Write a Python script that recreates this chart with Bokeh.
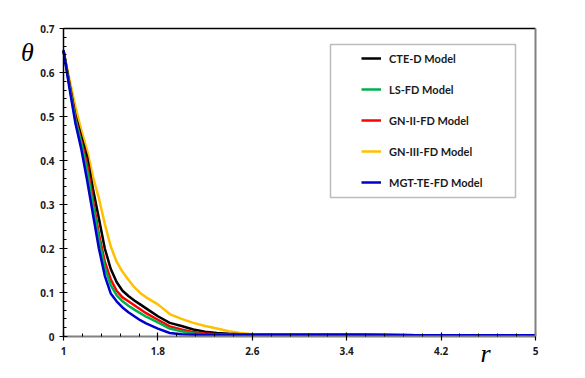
from bokeh.plotting import figure
from bokeh.models import (FixedTicker, Legend, LegendItem, BoxAnnotation, Label, Range1d, LinearAxis)
from bokeh.embed import file_html
from bokeh.resources import INLINE

# ---- data ----
r = [1.0, 1.05, 1.1, 1.15, 1.2, 1.25, 1.3, 1.35, 1.4, 1.45, 1.5, 1.55, 1.6, 1.65, 1.7,
     1.8, 1.9, 2.0, 2.1, 2.2, 2.3, 2.4, 2.5, 2.6, 2.8, 3.0, 3.5, 4.0, 4.5, 5.0]

cte_d = [0.650, 0.575, 0.503, 0.455, 0.408, 0.335, 0.268, 0.200, 0.154, 0.124, 0.104, 0.092, 0.082, 0.073, 0.064,
         0.046, 0.031, 0.024, 0.016, 0.011, 0.008, 0.006, 0.005, 0.004, 0.004, 0.004, 0.004, 0.003, 0.003, 0.003]
ls_fd = [0.650, 0.570, 0.493, 0.440, 0.378, 0.299, 0.222, 0.157, 0.117, 0.094, 0.080, 0.070, 0.061, 0.053, 0.045,
         0.032, 0.018, 0.012, 0.007, 0.005, 0.004, 0.004, 0.004, 0.004, 0.004, 0.004, 0.004, 0.003, 0.003, 0.003]
gn2_fd = [0.650, 0.572, 0.497, 0.445, 0.392, 0.311, 0.233, 0.170, 0.130, 0.104, 0.089, 0.080, 0.071, 0.062, 0.053,
          0.038, 0.023, 0.016, 0.010, 0.007, 0.005, 0.004, 0.004, 0.004, 0.004, 0.004, 0.004, 0.003, 0.003, 0.003]
gn3_fd = [0.650, 0.585, 0.523, 0.470, 0.423, 0.363, 0.314, 0.256, 0.205, 0.170, 0.147, 0.129, 0.112, 0.099, 0.089,
          0.073, 0.051, 0.040, 0.031, 0.024, 0.018, 0.012, 0.008, 0.005, 0.004, 0.004, 0.004, 0.003, 0.003, 0.003]
mgt_fd = [0.650, 0.565, 0.486, 0.427, 0.355, 0.277, 0.200, 0.138, 0.098, 0.080, 0.066, 0.055, 0.046, 0.037, 0.030,
          0.018, 0.008, 0.005, 0.004, 0.004, 0.004, 0.004, 0.004, 0.004, 0.004, 0.004, 0.004, 0.003, 0.003, 0.003]

series_names = ["CTE-D Model", "LS-FD Model", "GN-II-FD Model", "GN-III-FD Model", "MGT-TE-FD Model"]
series_colors = ["#000000", "#00b050", "#ff0000", "#ffc000", "#0000cc"]

x_ticks = [1, 1.8, 2.6, 3.4, 4.2, 5]
x_tick_labels = ["1", "1.8", "2.6", "3.4", "4.2", "5"]
y_ticks = [0, 0.1, 0.2, 0.3, 0.4, 0.5, 0.6, 0.7]
y_tick_labels = ["0", "0.1", "0.2", "0.3", "0.4", "0.5", "0.6", "0.7"]
x_minor = [1 + 0.16 * i for i in range(26)]
y_minor = [0.02 * i for i in range(36)]

# ---- layout: frame fills the canvas; axes are pinned at fixed data locations ----
W, H = 577, 370
X0, X1 = 1, 5
Y0, Y1 = 0, 0.7
px_left, px_right, px_top, px_bottom = 63, 535, 28, 336   # desired axes box in canvas pixels
sx = (X1 - X0) / (px_right - px_left)
sy = (Y1 - Y0) / (px_bottom - px_top)
x_range = Range1d(X0 - px_left * sx, X1 + (W - px_right) * sx)
y_range = Range1d(Y0 - (H - px_bottom) * sy, Y1 + px_top * sy)

p = figure(width=W, height=H, output_backend="svg", toolbar_location=None,
           x_range=x_range, y_range=y_range, x_axis_location=None, y_axis_location=None,
           min_border=0)
p.grid.visible = False
p.outline_line_color = None
p.background_fill_color = "white"
p.border_fill_color = "white"

data = [cte_d, ls_fd, gn2_fd, gn3_fd, mgt_fd]
order = [3, 0, 2, 1, 4]
renderers = {}
for i in order:
    renderers[i] = p.line(r, data[i], line_color=series_colors[i], line_width=2.5)

font = "Open Sans"

def style(ax):
    ax.major_label_text_font = font
    ax.major_label_text_font_style = "bold"
    ax.major_label_text_font_size = "10px"
    ax.major_label_text_color = "#1a1a1a"
    ax.major_tick_in = 4
    ax.major_tick_out = 4
    ax.minor_tick_in = 3
    ax.minor_tick_out = 0
    ax.major_tick_line_width = 1.2
    ax.major_tick_line_color = "black"
    ax.minor_tick_line_color = "black"

xaxis = LinearAxis(ticker=FixedTicker(ticks=x_ticks, minor_ticks=x_minor),
                   major_label_overrides={t: l for t, l in zip(x_ticks, x_tick_labels)},
                   fixed_location=Y0, bounds=(X0, X1),
                   axis_line_color="#808080", axis_line_width=2, major_label_standoff=6)
style(xaxis)
p.add_layout(xaxis, "below")

yaxis = LinearAxis(ticker=FixedTicker(ticks=y_ticks, minor_ticks=y_minor),
                   major_label_overrides={t: l for t, l in zip(y_ticks, y_tick_labels)},
                   fixed_location=X0, bounds=(Y0, Y1),
                   axis_line_color="black", axis_line_width=1.5, major_label_standoff=5)
style(yaxis)
p.add_layout(yaxis, "left")

# frame borders: top (black) and right (gray)
top_border = LinearAxis(ticker=FixedTicker(ticks=[]), fixed_location=Y1, bounds=(X0, X1),
                        axis_line_color="black", axis_line_width=1.5,
                        major_tick_line_color=None, minor_tick_line_color=None)
p.add_layout(top_border, "above")
right_border = LinearAxis(ticker=FixedTicker(ticks=[]), fixed_location=X1, bounds=(Y0, Y1),
                          axis_line_color="#808080", axis_line_width=2,
                          major_tick_line_color=None, minor_tick_line_color=None)
p.add_layout(right_border, "right")

# axis titles
p.add_layout(Label(x=X0 + (27 - px_left) * sx, y=(px_bottom - 52) * sy, text="θ",
                   text_font="Liberation Serif", text_font_style="italic",
                   text_font_size="26px", text_align="center", text_baseline="middle", text_color="black"))
p.add_layout(Label(x=X0 + (485 - px_left) * sx, y=(px_bottom - 352.5) * sy, text="r",
                   text_font="Liberation Serif", text_font_style="italic",
                   text_font_size="26px", text_align="center", text_baseline="middle", text_color="black"))

# legend box
p.add_layout(BoxAnnotation(left=X0 + (330 - px_left) * sx, right=X0 + (515 - px_left) * sx,
                           bottom=(px_bottom - 197) * sy, top=(px_bottom - 44) * sy,
                           fill_color=None, line_color="#222222", line_width=1.5, level="overlay"))

items = [LegendItem(label=series_names[i], renderers=[renderers[i]]) for i in range(5)]
legend = Legend(items=items, location=(361, 178), border_line_color=None, background_fill_alpha=0,
                padding=5, spacing=11, label_height=20, glyph_height=20, glyph_width=20,
                label_standoff=8, label_text_font="Lato", label_text_font_style="bold",
                label_text_font_size="11px", label_text_color="#1a1a1a", margin=0)
p.add_layout(legend)

open("out.html", "w").write(file_html(p, INLINE))
